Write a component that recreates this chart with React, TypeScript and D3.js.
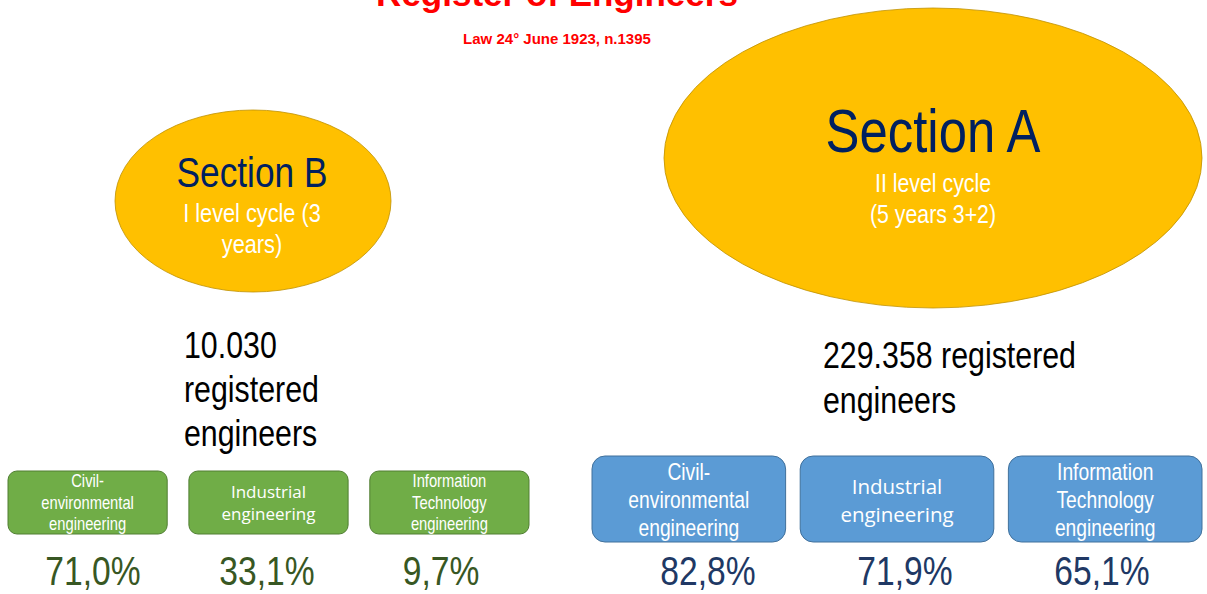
import React, { useEffect } from 'react'
import * as d3 from 'd3'

// values
const title = 'Register of Engineers'
const subtitle = 'Law 24° June 1923, n.1395'
const sections = ['Section B', 'Section A']
const sectionCycles = [
  ['I level cycle (3', 'years)'],
  ['II level cycle', '(5 years 3+2)']
]
const registeredLines = [
  ['10.030', 'registered', 'engineers'],
  ['229.358 registered', 'engineers']
]
const branchLines = [
  ['Civil-', 'environmental', 'engineering'],
  ['Industrial', 'engineering'],
  ['Information', 'Technology', 'engineering']
]
const sectionBShares = [71.0, 33.1, 9.7]
const sectionAShares = [82.8, 71.9, 65.1]

const W = 1207
const H = 594
const SANS = "'Liberation Sans', Arial, sans-serif"
const WIDE = "'Open Sans', 'Liberation Sans', sans-serif"
const NARROW_X = 0.82 // no Arial Narrow here, so squeeze Liberation Sans

const itLocale = d3.formatLocale({ decimal: ',', thousands: '.', grouping: [3], currency: ['€', ''] })
const fmtPct = (v: number) => itLocale.format('.1f')(v) + '%'

const green = { fill: '#70AD47', stroke: '#507E32', text: '#385723' }
const blue = { fill: '#5B9BD5', stroke: '#41719C', text: '#203864' }

// narrow text: Liberation Sans squeezed horizontally
const NText = ({ x, y, size, fill, anchor = 'middle', weight = 'normal', children }) => (
  <text
    transform={`translate(${x},${y}) scale(${NARROW_X},1)`}
    textAnchor={anchor}
    fill={fill}
    fontFamily={SANS}
    fontWeight={weight}
    fontSize={size}
  >
    {children}
  </text>
)

const Boxes = ({ shares, range, pad, pctRange, top, h, pal, fontSize, wideSize, lineGap, rx, firstBase, wideBase, id }) => {
  const x = d3.scaleBand<number>().domain(d3.range(shares.length)).range(range).paddingInner(pad)
  const px = d3.scalePoint<number>().domain(d3.range(shares.length)).range(pctRange)
  return (
    <g>
      {shares.map((v, i) => {
        const bx = x(i)
        const bw = x.bandwidth()
        const cx = bx + bw / 2
        const lines = branchLines[i]
        const wide = lines.length === 2
        return (
          <g key={i}>
            <clipPath id={`${id}-${i}`}>
              <rect x={bx} y={top} width={bw} height={h} />
            </clipPath>
            <rect x={bx} y={top} width={bw} height={h} rx={rx} fill={pal.fill} stroke={pal.stroke} strokeWidth={1} />
            <g clipPath={`url(#${id}-${i})`}>
              {lines.map((l, j) =>
                wide ? (
                  <text
                    key={j}
                    x={cx}
                    y={wideBase + j * lineGap}
                    textAnchor="middle"
                    fill="#fff"
                    fontFamily={WIDE}
                    fontSize={wideSize}
                  >
                    {l}
                  </text>
                ) : (
                  <NText key={j} x={cx} y={firstBase + j * lineGap} size={fontSize} fill="#fff">
                    {l}
                  </NText>
                )
              )}
            </g>
            <NText x={px(i)} y={585} size={41} fill={pal.text}>
              {fmtPct(v)}
            </NText>
          </g>
        )
      })}
    </g>
  )
}

export default function App() {
  useEffect(() => {
    document.body.style.margin = '0'
  }, [])

  return (
    <svg width={W} height={H} style={{ display: 'block', background: '#fff' }}>
      <text x={557} y={6} textAnchor="middle" fill="#FF0000" fontFamily={SANS} fontWeight="bold" fontSize={35}>
        {title}
      </text>
      <text x={557} y={44} textAnchor="middle" fill="#FF0000" fontFamily={SANS} fontWeight="bold" fontSize={15}>
        {subtitle}
      </text>

      {/* Section B */}
      <ellipse cx={253} cy={201} rx={138} ry={91} fill="#FFC000" stroke="#BF9000" strokeWidth={0.8} />
      <NText x={252} y={187} size={43} fill="#002060">
        {sections[0]}
      </NText>
      {sectionCycles[0].map((l, j) => (
        <NText key={j} x={252} y={222 + j * 31} size={26.5} fill="#fff">
          {l}
        </NText>
      ))}

      {/* Section A */}
      <ellipse cx={933} cy={158} rx={269} ry={150} fill="#FFC000" stroke="#BF9000" strokeWidth={0.8} />
      <NText x={933} y={152} size={62} fill="#002060">
        {sections[1]}
      </NText>
      {sectionCycles[1].map((l, j) => (
        <NText key={j} x={933} y={192 + j * 31} size={26} fill="#fff">
          {l}
        </NText>
      ))}

      {registeredLines[0].map((l, j) => (
        <NText key={j} x={184} y={358 + j * 44} size={37} fill="#000" anchor="start">
          {l}
        </NText>
      ))}
      {registeredLines[1].map((l, j) => (
        <NText key={j} x={823} y={368 + j * 45} size={37} fill="#000" anchor="start">
          {l}
        </NText>
      ))}

      <Boxes
        id="gb"
        shares={sectionBShares}
        range={[8, 529]}
        pad={0.12}
        pctRange={[93, 441]}
        top={471}
        h={63}
        pal={green}
        fontSize={18}
        wideSize={17}
        lineGap={21.5}
        rx={9}
        firstBase={487}
        wideBase={498}
      />
      <Boxes
        id="ba"
        shares={sectionAShares}
        range={[592, 1202]}
        pad={0.07}
        pctRange={[708, 1102]}
        top={456}
        h={86}
        pal={blue}
        fontSize={23.5}
        wideSize={20.5}
        lineGap={28}
        rx={13}
        firstBase={480}
        wideBase={494}
      />
    </svg>
  )
}
